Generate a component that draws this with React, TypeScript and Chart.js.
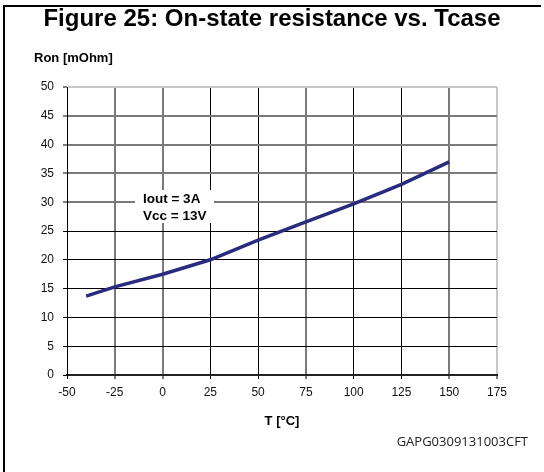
import React, { useEffect, useRef } from "react";
import { Chart, registerables } from "chart.js";

Chart.register(...registerables);

const temperatures = [-40, -25, 0, 25, 50, 75, 100, 125, 150];
const resistance = [13.7, 15.3, 17.5, 20.0, 23.4, 26.6, 29.7, 33.1, 37.0];
const xMin = -50;
const xMax = 175;
const xStep = 25;
const yMin = 0;
const yMax = 50;
const yStep = 5;
const titleText = "Figure 25: On-state resistance vs. Tcase";
const yAxisLabel = "Ron [mOhm]";
const xAxisLabel = "T [°C]";
const conditionLines = ["Iout = 3A", "Vcc = 13V"];
const figureCode = "GAPG0309131003CFT";

const FONT = "'Liberation Sans', Arial, sans-serif";

const decorPlugin = {
  id: "decor",
  afterDatasetsDraw(chart: any) {
    const { ctx } = chart;
    ctx.save();
    // frame lines
    ctx.strokeStyle = "#000";
    ctx.lineWidth = 2;
    ctx.beginPath();
    ctx.moveTo(3, 6);
    ctx.lineTo(541, 6);
    ctx.moveTo(4, 5);
    ctx.lineTo(4, 472);
    ctx.stroke();

    // y axis label
    ctx.fillStyle = "#000";
    ctx.font = `bold 13px ${FONT}`;
    ctx.textAlign = "left";
    ctx.textBaseline = "middle";
    ctx.fillText(yAxisLabel, 34, 58);

    // condition box
    ctx.fillStyle = "#fff";
    ctx.fillRect(135, 190, 79, 33);
    ctx.fillStyle = "#000";
    ctx.font = `bold 13.5px ${FONT}`;
    ctx.fillText(conditionLines[0], 143, 199);
    ctx.fillText(conditionLines[1], 143, 216);

    // figure code
    ctx.font = `13px 'Open Sans', sans-serif`;
    ctx.textAlign = "right";
    ctx.fillStyle = "#222";
    ctx.fillText(figureCode, 528, 442);
    ctx.restore();
  },
};

export default function App() {
  const ref = useRef<HTMLCanvasElement | null>(null);

  useEffect(() => {
    if (!ref.current) return;
    const chart = new Chart(ref.current, {
      type: "line",
      data: {
        datasets: [
          {
            data: temperatures.map((t, i) => ({ x: t, y: resistance[i] })),
            borderColor: "#2a2a7e",
            borderWidth: 3.5,
            pointRadius: 0,
            tension: 0,
            fill: false,
            yAxisID: "y",
          },
        ],
      },
      options: {
        responsive: false,
        animation: false,
        layout: { padding: 0 },
        plugins: {
          legend: { display: false },
          tooltip: { enabled: false },
          title: {
            display: true,
            text: titleText,
            color: "#000",
            font: { family: FONT, size: 24, weight: "bold" },
            padding: { top: 5, bottom: 53.2 },
          },
        },
        scales: {
          x: {
            type: "linear",
            min: xMin,
            max: xMax,
            afterFit(scale: any) {
              scale.height = 97;
            },
            ticks: {
              stepSize: xStep,
              color: "#111",
              font: { family: FONT, size: 12 },
              padding: 6,
              maxRotation: 0,
            },
            grid: {
              color: (c: any) => {
                const v = c.tick?.value;
                if (v === 175) return "#c8c8c8";
                if (v === -25 || v === 0 || v === 75 || v === 150) return "#7a7a7a";
                return "#000";
              },
              lineWidth: (c: any) => {
                const v = c.tick?.value;
                if (v === 175 || v === -25 || v === 0 || v === 75 || v === 150) return 2;
                return 1;
              },
              tickColor: "#000",
              tickLength: 4,
              tickWidth: 1,
            },
            border: { color: "#222", width: 2 },
            title: {
              display: true,
              text: xAxisLabel,
              color: "#000",
              font: { family: FONT, size: 13, weight: "bold" },
              padding: { top: 0, bottom: 43 },
            },
          },
          y: {
            type: "linear",
            position: "left",
            min: yMin,
            max: yMax,
            afterFit(scale: any) {
              scale.width = 67;
            },
            ticks: {
              stepSize: yStep,
              color: "#111",
              font: { family: FONT, size: 12 },
              padding: 9,
            },
            grid: {
              color: (c: any) => {
                const v = c.tick?.value;
                if (v === 50) return "#c8c8c8";
                if (v >= 30) return "#7a7a7a";
                return "#000";
              },
              lineWidth: (c: any) => {
                const v = c.tick?.value;
                if (v >= 30) return 2;
                return 1;
              },
              tickColor: "#000",
              tickLength: 4,
              tickWidth: 1,
            },
            border: { color: "#000", width: 1 },
          },
          yRight: {
            type: "linear",
            position: "right",
            min: yMin,
            max: yMax,
            afterFit(scale: any) {
              scale.width = 47;
            },
            ticks: { display: false },
            grid: { display: false, drawTicks: false },
            border: { display: false },
          },
        },
      },
      plugins: [decorPlugin],
    });
    return () => chart.destroy();
  }, []);

  return (
    <div style={{ position: "fixed", left: 0, top: 0, width: 544, height: 472, background: "#fff" }}>
      <canvas ref={ref} width={544} height={472} style={{ display: "block" }} />
    </div>
  );
}
